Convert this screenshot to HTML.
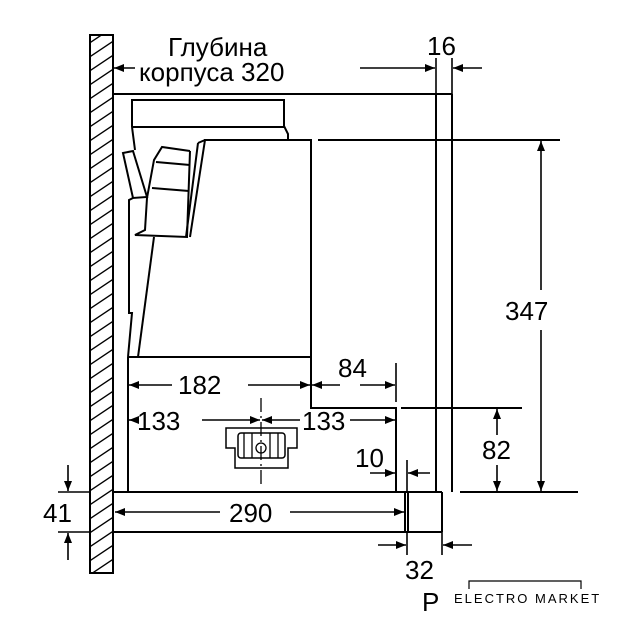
<!DOCTYPE html>
<html><head><meta charset="utf-8"><style>
html,body{margin:0;padding:0;background:#fff}
svg{display:block}
text{font-family:"Liberation Sans",sans-serif;fill:#000}
</style></head><body>
<svg width="640" height="640" viewBox="0 0 640 640" xmlns="http://www.w3.org/2000/svg">
<defs>
<pattern id="h" patternUnits="userSpaceOnUse" width="23" height="14" patternTransform="translate(90,0)">
<path d="M-2,16 L25,-2 M-2,30 L25,12 M-2,2 L25,-16" stroke="#000" stroke-width="1.4"/>
</pattern>
<marker id="a" markerWidth="10" markerHeight="8" refX="10" refY="4" orient="auto" markerUnits="userSpaceOnUse">
<path d="M0,0 L10,4 L0,8 z" fill="#000"/>
</marker>
</defs>
<g stroke="#000" stroke-width="2" fill="none">
<rect x="90" y="35" width="23" height="538" fill="url(#h)"/>
<line x1="113" y1="94" x2="452" y2="94"/>
<line x1="436" y1="94" x2="436" y2="492"/>
<line x1="452" y1="94" x2="452" y2="492"/>
<line x1="318" y1="140" x2="560" y2="140"/>
<!-- hood top -->
<path d="M132,127 L132,100 L284,100 L284,126 L288,134 L288,140"/>
<line x1="132" y1="127" x2="284" y2="127"/>
<path d="M132,127 L135,150 M133,198 L129,200 L129,313 L132,313 L128,357"/>
<!-- flap -->
<path d="M123,153 L133,151 L147,197 L133,198 Z"/>
<!-- grille -->
<path d="M190,151 L162,147 L154,160 L147,198 L145,230 L135,235 L187,237 L190,151"/>
<path d="M156,162 L190,165"/>
<path d="M152,188 L189,191"/>
<!-- front panel -->
<path d="M198,143 L205,140 M198,143 L186,237 M205,140 L190,237"/>
<!-- main body -->
<path d="M204,140 L311,140 L311,357"/>
<path d="M154,237 L138,357"/>
<line x1="128" y1="357" x2="311" y2="357"/>
<!-- lower structure -->
<line x1="128" y1="357" x2="128" y2="492"/>
<path d="M311,357 L311,408 L396,408 L396,492"/>
<line x1="401" y1="408" x2="522" y2="408"/>
<line x1="405" y1="492" x2="405" y2="532"/>
<line x1="113" y1="492" x2="442" y2="492"/>
<line x1="113" y1="532" x2="442" y2="532"/>
<line x1="442" y1="492" x2="442" y2="532"/>
<line x1="408" y1="492" x2="408" y2="532"/>
<line x1="460" y1="492" x2="578" y2="492"/>
<!-- fan -->
<path stroke-width="1.5" d="M226,428 L297,428 L297,448 L288,448 L288,468 L235,468 L235,448 L226,448 Z"/>
<rect stroke-width="1.5" x="238" y="433" width="47" height="25" rx="3"/>
<g stroke-width="1.3"><line x1="244" y1="433" x2="244" y2="458"/><line x1="252" y1="433" x2="252" y2="458"/><line x1="270" y1="433" x2="270" y2="458"/><line x1="278" y1="433" x2="278" y2="458"/></g>
<circle cx="261" cy="448" r="5" stroke-width="1.3"/>
<line x1="261" y1="398" x2="261" y2="485" stroke-width="1.3" stroke-dasharray="14,4,2,4"/>
</g>
<g stroke="#000" stroke-width="1.6" fill="none">
<line x1="135" y1="68" x2="114" y2="68" marker-end="url(#a)"/>
<line x1="360" y1="68" x2="435" y2="68" marker-end="url(#a)"/>
<line x1="436" y1="58" x2="436" y2="94"/>
<line x1="452" y1="58" x2="452" y2="94"/>
<line x1="482" y1="68" x2="453" y2="68" marker-end="url(#a)"/>
<line x1="541" y1="290" x2="541" y2="141" marker-end="url(#a)"/>
<line x1="541" y1="330" x2="541" y2="491" marker-end="url(#a)"/>
<line x1="172" y1="385" x2="129" y2="385" marker-end="url(#a)"/>
<line x1="248" y1="385" x2="310" y2="385" marker-end="url(#a)"/>
<line x1="340" y1="385" x2="312" y2="385" marker-end="url(#a)"/>
<line x1="360" y1="385" x2="395" y2="385" marker-end="url(#a)"/>
<line x1="396" y1="363" x2="396" y2="402"/>
<line x1="136" y1="420" x2="129" y2="420" marker-end="url(#a)"/>
<line x1="202" y1="420" x2="260" y2="420" marker-end="url(#a)"/>
<line x1="300" y1="420" x2="262" y2="420" marker-end="url(#a)"/>
<line x1="350" y1="420" x2="395" y2="420" marker-end="url(#a)"/>
<line x1="497" y1="435" x2="497" y2="409" marker-end="url(#a)"/>
<line x1="497" y1="465" x2="497" y2="491" marker-end="url(#a)"/>
<line x1="407" y1="460" x2="407" y2="492"/>
<line x1="370" y1="473" x2="395" y2="473" marker-end="url(#a)"/>
<line x1="430" y1="473" x2="408" y2="473" marker-end="url(#a)"/>
<line x1="220" y1="512" x2="115" y2="512" marker-end="url(#a)"/>
<line x1="290" y1="512" x2="404" y2="512" marker-end="url(#a)"/>
<line x1="407" y1="532" x2="407" y2="555"/>
<line x1="442" y1="532" x2="442" y2="555"/>
<line x1="378" y1="545" x2="406" y2="545" marker-end="url(#a)"/>
<line x1="472" y1="545" x2="443" y2="545" marker-end="url(#a)"/>
<line x1="58" y1="492" x2="90" y2="492"/>
<line x1="58" y1="532" x2="90" y2="532"/>
<line x1="68" y1="465" x2="68" y2="491" marker-end="url(#a)"/>
<line x1="68" y1="560" x2="68" y2="533" marker-end="url(#a)"/>
</g>
<g font-size="26">
<text x="168" y="56">Глубина</text>
<text x="139" y="81">корпуса 320</text>
<text x="427" y="55">16</text>
<text x="505" y="320">347</text>
<text x="178" y="394">182</text>
<text x="338" y="377">84</text>
<text x="137" y="430">133</text>
<text x="302" y="430">133</text>
<text x="482" y="459">82</text>
<text x="355" y="467">10</text>
<text x="229" y="522">290</text>
<text x="405" y="579">32</text>
<text x="43" y="522">41</text>
<text x="422" y="611">P</text>
</g>
<text x="454" y="603" font-size="13" letter-spacing="2">ELECTRO MARKET</text>
<path d="M469,589 L469,581 L581,581 L581,589" stroke="#000" stroke-width="1.2" fill="none"/>
</svg>
</body></html>
